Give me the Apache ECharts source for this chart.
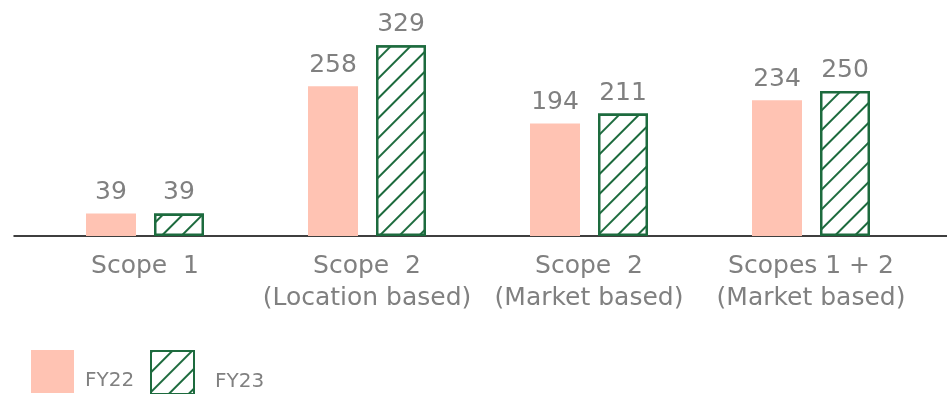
<!DOCTYPE html>
<html>
<head>
<meta charset="utf-8">
<script src="https://cdn.jsdelivr.net/npm/echarts@6/dist/echarts.min.js"></script>
<style>
html,body{margin:0;padding:0;background:#fff;}
#chart{width:947px;height:394px;}
</style>
</head>
<body>
<div id="chart"></div>
<script>
const categories = ['Scope  1', 'Scope  2\n(Location based)', 'Scope  2\n(Market based)', 'Scopes 1 + 2\n(Market based)'];
const seriesNames = ['FY22', 'FY23'];
const fy22 = [39, 258, 194, 234];
const fy23 = [39, 329, 211, 250];

const PINK = '#FFC3B3';
const GREEN = '#1D6B3E';
const GRAY = '#808080';
const FONT = '"DejaVu Sans", sans-serif';

const chart = echarts.init(document.getElementById('chart'));
chart.setOption({
  animation: false,
  backgroundColor: '#fff',
  textStyle: { fontFamily: FONT },
  grid: [
    { left: 34, right: 25, top: 4, bottom: 158 },
    { left: 14, right: 0, top: 4, bottom: 158 }
  ],
  xAxis: [
    {
      type: 'category', gridIndex: 0, data: categories,
      axisLine: { show: false }, axisTick: { show: false },
      axisLabel: { interval: 0, margin: 14, fontSize: 25, lineHeight: 32, color: GRAY, fontFamily: FONT }
    },
    {
      type: 'category', gridIndex: 1, data: [''],
      axisLine: { show: true, lineStyle: { color: '#000', width: 1.5 } },
      axisTick: { show: false }, axisLabel: { show: false }
    }
  ],
  yAxis: [
    { type: 'value', gridIndex: 0, min: 0, max: 400, show: false },
    { type: 'value', gridIndex: 1, min: 0, max: 400, show: false }
  ],
  legend: [
    {
      left: 31, top: 350, padding: 0, itemWidth: 43, itemHeight: 43, icon: 'rect',
      data: [seriesNames[0]],
      formatter: n => '{t|' + n + '}',
      textStyle: { fontSize: 20, color: GRAY, fontFamily: FONT,
        rich: { t: { fontSize: 20, color: GRAY, fontFamily: FONT, padding: [18, 0, 0, 6] } } }
    },
    {
      left: 150, top: 350, padding: 0, itemWidth: 43, itemHeight: 43, icon: 'rect',
      data: [seriesNames[1]],
      formatter: n => '{t|' + n + '}',
      textStyle: { fontSize: 20, color: GRAY, fontFamily: FONT,
        rich: { t: { fontSize: 20, color: GRAY, fontFamily: FONT, padding: [18, 0, 0, 16] } } }
    }
  ],
  series: [
    {
      name: seriesNames[0], type: 'bar', xAxisIndex: 0, yAxisIndex: 0,
      data: fy22, barWidth: 50, barGap: '36%',
      itemStyle: { color: PINK },
      label: { show: true, position: 'top', distance: 8, fontSize: 25, color: GRAY, fontFamily: FONT }
    },
    {
      name: seriesNames[1], type: 'bar', xAxisIndex: 0, yAxisIndex: 0,
      data: fy23, barWidth: 50, barGap: '36%',
      itemStyle: {
        color: '#fff', borderColor: GREEN, borderWidth: 2.5,
        decal: {
          symbol: 'rect', color: GREEN, backgroundColor: '#fff',
          dashArrayX: [1, 0], dashArrayY: [2, 12], rotation: -Math.PI / 4
        }
      },
      label: { show: true, position: 'top', distance: 8, fontSize: 25, color: GRAY, fontFamily: FONT }
    }
  ]
});
</script>
</body>
</html>
